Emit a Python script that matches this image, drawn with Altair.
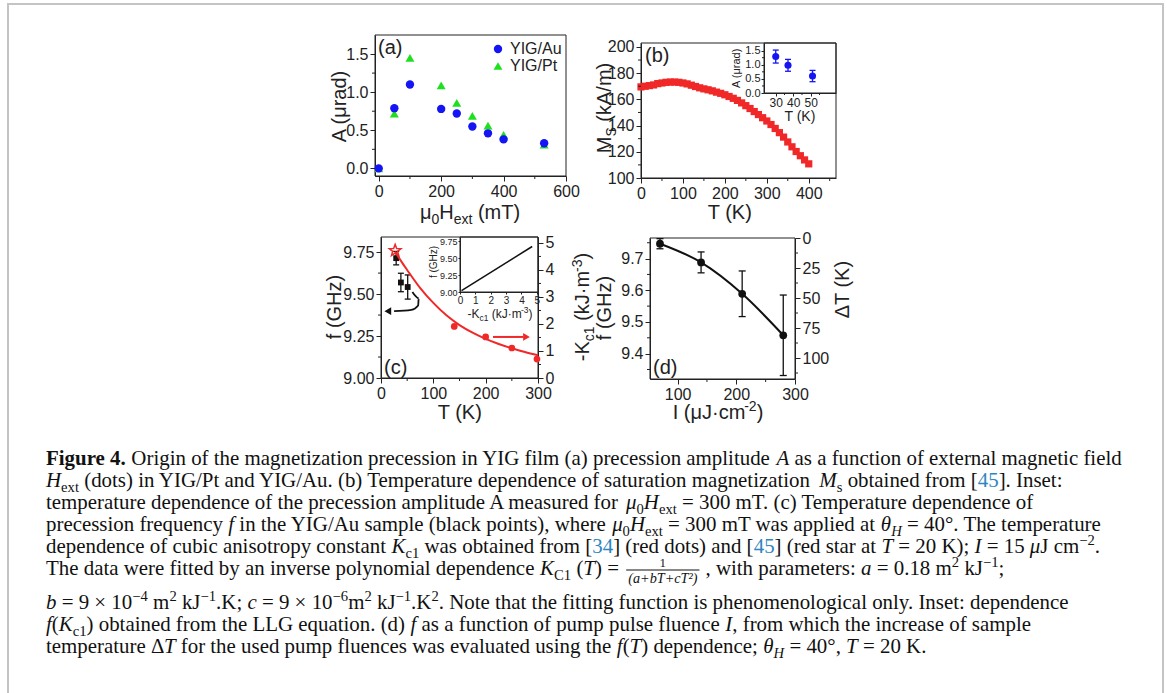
import math
import altair as alt
import pandas as pd

W, H = 1167, 693
INK = "#222222"
CAP_INK = "#111111"
SANS = "Liberation Sans"
SERIF = "Liberation Serif"
BLUE = "#1414f5"
GREEN = "#1fe01f"
RED = "#f02828"
REF_BLUE = "#2f86c0"

# ---------------- data ----------------
# (a) amplitude vs field
a_field = [0, 50, 100, 200, 250, 300, 350, 400, 530]
a_amp_au = [0.00, 0.79, 1.10, 0.78, 0.72, 0.55, 0.46, 0.38, 0.33]
a_amp_pt = [0.00, 0.72, 1.45, 1.09, 0.86, 0.69, 0.56, 0.44, 0.31]

# (b) saturation magnetization vs temperature
b_temp = [0, 10, 20, 30, 40, 50, 60, 70, 80, 90, 100, 110, 120, 130, 140, 150, 160, 170, 180, 190,
          200, 210, 220, 230, 240, 250, 260, 270, 280, 290, 300, 310, 320, 330, 340, 350, 360, 370,
          380, 390, 400]
b_ms = [169.5, 170.0, 170.5, 171.0, 172.0, 172.5, 173.0, 173.2, 173.2, 173.0, 172.5, 171.8, 170.8,
        169.8, 168.8, 168.0, 167.3, 166.5, 165.5, 164.6, 163.5, 162.2, 160.8, 159.2, 157.3, 155.2,
        153.0, 150.7, 148.4, 146.0, 143.5, 140.8, 137.8, 134.6, 131.2, 127.5, 123.8, 120.2, 117.0,
        113.8, 110.8]
# (b) inset
bi_temp = [30, 37, 51]
bi_amp = [1.29, 0.98, 0.60]
bi_err = [0.23, 0.21, 0.20]

# (c) frequency vs temperature (left axis)
c_temp_f = [29, 38, 51]
c_freq = [9.714, 9.569, 9.542]
c_freq_err = [0.040, 0.055, 0.072]
# (c) -Kc1 (right axis)
c_star_temp = [27]
c_star_k = [4.72]
c_dot_temp = [140, 200, 250, 298]
c_dot_k = [1.91, 1.52, 1.11, 0.70]
c_fit_temp = [27, 40, 50, 75, 100, 125, 150, 175, 200, 225, 250, 275, 300]
c_fit_k = [4.68, 4.28, 4.00, 3.33, 2.78, 2.32, 1.96, 1.68, 1.45, 1.26, 1.10, 0.96, 0.84]
# (c) arrows
c_red_arrow_temp = [214, 272]
c_red_arrow_k = [1.52, 1.52]
c_red_head_temp = [278]
c_red_head_k = [1.52]
c_blk_arrow_temp = [60, 72, 71, 58, 25]
c_blk_arrow_f = [9.512, 9.475, 9.432, 9.406, 9.398]
c_blk_head_temp = [13]
c_blk_head_f = [9.398]
# (c) inset
ci_k = [0.1, 4.7]
ci_f = [9.02, 9.67]

# (d) frequency vs fluence
d_flu = [70, 140, 210, 280]
d_freq = [9.747, 9.688, 9.589, 9.458]
d_err = [0.016, 0.033, 0.072, 0.127]

# ---------------- helpers ----------------
def sc(domain, rng):
    return alt.Scale(domain=domain, range=rng, zero=False, nice=False)


def axis(orient, pos, values, fmt=None, size=16, tick=5, pad=2):
    if orient == "bottom":
        off = pos - H
    elif orient == "left":
        off = -pos
    else:
        off = pos - W
    kw = dict(orient=orient, offset=off, values=values, title=None, grid=False,
              labelFont=SANS, labelFontSize=size, labelColor=INK, domainColor=INK,
              tickColor=INK, tickSize=tick, labelPadding=pad, labelFlush=False,
              labelOverlap=False, domainWidth=1, tickWidth=1)
    if fmt:
        kw["format"] = fmt
    return alt.Axis(**kw)


def minor_x(vals, xs, xa, ybot, ln=3):
    return alt.Chart(pd.DataFrame({"m": vals})).mark_rule(color=INK, strokeWidth=1).encode(
        x=alt.X("m:Q", scale=xs, axis=xa), y=alt.value(ybot), y2=alt.value(ybot + ln))


def minor_y(vals, ys, ya, xpos, side="left", ln=3):
    x2 = xpos - ln if side == "left" else xpos + ln
    return alt.Chart(pd.DataFrame({"m": vals})).mark_rule(color=INK, strokeWidth=1).encode(
        y=alt.Y("m:Q", scale=ys, axis=ya), x=alt.value(xpos), x2=alt.value(x2))


def errbars(df, xf, yf, ef, xs, xa, ys, ya, color, cap=7):
    d = df.copy()
    d["lo"] = d[yf] - d[ef]
    d["hi"] = d[yf] + d[ef]
    base = alt.Chart(d)
    rule = base.mark_rule(color=color, strokeWidth=1.3).encode(
        x=alt.X(f"{xf}:Q", scale=xs, axis=xa), y=alt.Y("lo:Q", scale=ys, axis=ya), y2="hi:Q")
    t1 = base.mark_tick(color=color, orient="horizontal", size=cap, thickness=1.3, opacity=1).encode(
        x=alt.X(f"{xf}:Q", scale=xs, axis=xa), y=alt.Y("lo:Q", scale=ys, axis=ya))
    t2 = base.mark_tick(color=color, orient="horizontal", size=cap, thickness=1.3, opacity=1).encode(
        x=alt.X(f"{xf}:Q", scale=xs, axis=xa), y=alt.Y("hi:Q", scale=ys, axis=ya))
    return [rule, t1, t2]


# star symbol path
_pts = []
for k in range(10):
    ang = -math.pi / 2 + k * math.pi / 5
    r = 1.0 if k % 2 == 0 else 0.42
    _pts.append(f"{r * math.cos(ang):.3f},{r * math.sin(ang):.3f}")
STAR = "M" + " L".join(_pts) + " Z"

# ---------------- panel (a) ----------------
A = dict(L=375, R=566, T=35, B=176)
xsA = sc([-12, 600], [A["L"], A["R"]])
ysA = sc([-0.1, 1.75], [A["B"], A["T"]])
xaA = axis("bottom", A["B"], [0, 200, 400, 600])
yaA = axis("left", A["L"], [0, 0.5, 1.0, 1.5], ".1f")
dfA = pd.DataFrame({"h": a_field, "au": a_amp_au, "pt": a_amp_pt})
panelA = alt.layer(
    alt.Chart(dfA).mark_point(shape="triangle-up", filled=True, size=80, color=GREEN, opacity=1).encode(
        x=alt.X("h:Q", scale=xsA, axis=xaA), y=alt.Y("pt:Q", scale=ysA, axis=yaA)),
    alt.Chart(dfA).mark_point(shape="circle", filled=True, size=70, color=BLUE, opacity=1).encode(
        x=alt.X("h:Q", scale=xsA, axis=xaA), y=alt.Y("au:Q", scale=ysA, axis=yaA)),
    minor_x([100, 300, 500], xsA, xaA, A["B"]),
    minor_y([0.25, 0.75, 1.25], ysA, yaA, A["L"]),
)

# ---------------- panel (b) ----------------
B = dict(L=641, R=836, T=43, B=178)
xsB = sc([0, 465], [B["L"], B["R"]])
ysB = sc([100, 203], [B["B"], B["T"]])
xaB = axis("bottom", B["B"], [0, 100, 200, 300, 400])
yaB = axis("left", B["L"], [100, 120, 140, 160, 180, 200])
dfB = pd.DataFrame({"t": b_temp, "ms": b_ms})
panelB = alt.layer(
    alt.Chart(dfB).mark_square(size=52, color=RED, opacity=1).encode(
        x=alt.X("t:Q", scale=xsB, axis=xaB), y=alt.Y("ms:Q", scale=ysB, axis=yaB)),
    minor_x([50, 150, 250, 350, 450], xsB, xaB, B["B"]),
    minor_y([110, 130, 150, 170, 190], ysB, yaB, B["L"]),
)

BI = dict(L=764, R=836, T=43, B=93)
xsBI = sc([23.3, 64.4], [BI["L"], BI["R"]])
ysBI = sc([0, 1.77], [BI["B"], BI["T"]])
xaBI = axis("bottom", BI["B"], [30, 40, 50], size=12, tick=3, pad=1)
yaBI = axis("left", BI["L"], [0, 0.5, 1.0, 1.5], ".1f", size=11, tick=3, pad=1)
dfBI = pd.DataFrame({"t": bi_temp, "a": bi_amp, "e": bi_err})
panelBI = alt.layer(
    *errbars(dfBI, "t", "a", "e", xsBI, xaBI, ysBI, yaBI, BLUE, cap=6),
    alt.Chart(dfBI).mark_point(shape="circle", filled=True, size=50, color=BLUE, opacity=1).encode(
        x=alt.X("t:Q", scale=xsBI, axis=xaBI), y=alt.Y("a:Q", scale=ysBI, axis=yaBI)),
    minor_x([35, 45, 55], xsBI, xaBI, BI["B"], ln=2),
    minor_y([0.25, 0.75, 1.25], ysBI, yaBI, BI["L"], ln=2),
)

# ---------------- panel (c) ----------------
C = dict(L=381, R=538, T=237, B=378)
xsC = sc([0, 300], [C["L"], C["R"]])
ysCL = sc([9.0, 9.84], [C["B"], C["T"]])
ysCR = sc([0, 5.22], [C["B"], C["T"]])
xaC = axis("bottom", C["B"], [0, 100, 200, 300])
yaCL = axis("left", C["L"], [9.0, 9.25, 9.5, 9.75], ".2f")
yaCR = axis("right", C["R"], [0, 1, 2, 3, 4, 5])
dfCf = pd.DataFrame({"t": c_temp_f, "f": c_freq, "e": c_freq_err})
leftC = alt.layer(
    *errbars(dfCf, "t", "f", "e", xsC, xaC, ysCL, yaCL, "#111111", cap=6),
    alt.Chart(dfCf).mark_square(size=34, color="#111111", opacity=1).encode(
        x=alt.X("t:Q", scale=xsC, axis=xaC), y=alt.Y("f:Q", scale=ysCL, axis=yaCL)),
    alt.Chart(pd.DataFrame({"t": c_blk_arrow_temp, "f": c_blk_arrow_f, "o": list(range(len(c_blk_arrow_f)))}))
    .mark_line(color="#111111", strokeWidth=1.8, interpolate="monotone").encode(
        x=alt.X("t:Q", scale=xsC, axis=xaC), y=alt.Y("f:Q", scale=ysCL, axis=yaCL), order="o:Q"),
    alt.Chart(pd.DataFrame({"t": c_blk_head_temp, "f": c_blk_head_f}))
    .mark_point(shape="triangle-left", filled=True, size=60, color="#111111", opacity=1).encode(
        x=alt.X("t:Q", scale=xsC, axis=xaC), y=alt.Y("f:Q", scale=ysCL, axis=yaCL)),
    minor_x([50, 150, 250], xsC, xaC, C["B"]),
    minor_y([9.125, 9.375, 9.625], ysCL, yaCL, C["L"]),
)
rightC = alt.layer(
    alt.Chart(pd.DataFrame({"t": c_fit_temp, "k": c_fit_k})).mark_line(
        color=RED, strokeWidth=2, interpolate="monotone").encode(
        x=alt.X("t:Q", scale=xsC, axis=xaC), y=alt.Y("k:Q", scale=ysCR, axis=yaCR)),
    alt.Chart(pd.DataFrame({"t": c_dot_temp, "k": c_dot_k})).mark_point(
        shape="circle", filled=True, size=45, color=RED, opacity=1).encode(
        x=alt.X("t:Q", scale=xsC, axis=xaC), y=alt.Y("k:Q", scale=ysCR, axis=yaCR)),
    alt.Chart(pd.DataFrame({"t": c_star_temp, "k": c_star_k})).mark_point(
        shape=STAR, filled=False, size=150, color=RED, strokeWidth=1.5, opacity=1).encode(
        x=alt.X("t:Q", scale=xsC, axis=xaC), y=alt.Y("k:Q", scale=ysCR, axis=yaCR)),
    alt.Chart(pd.DataFrame({"t": c_red_arrow_temp, "k": c_red_arrow_k})).mark_line(
        color=RED, strokeWidth=2).encode(
        x=alt.X("t:Q", scale=xsC, axis=xaC), y=alt.Y("k:Q", scale=ysCR, axis=yaCR)),
    alt.Chart(pd.DataFrame({"t": c_red_head_temp, "k": c_red_head_k})).mark_point(
        shape="triangle-right", filled=True, size=60, color=RED, opacity=1).encode(
        x=alt.X("t:Q", scale=xsC, axis=xaC), y=alt.Y("k:Q", scale=ysCR, axis=yaCR)),
    minor_y([0.5, 1.5, 2.5, 3.5, 4.5], ysCR, yaCR, C["R"], side="right"),
)
panelC = alt.layer(leftC, rightC).resolve_scale(y="independent")

CI = dict(L=460, R=538, T=237, B=292)
xsCI = sc([0, 5.08], [CI["L"], CI["R"]])
ysCI = sc([9.0, 9.81], [CI["B"], CI["T"]])
xaCI = axis("bottom", CI["B"], [0, 1, 2, 3, 4, 5], size=10, tick=2, pad=1)
yaCI = axis("left", CI["L"], [9.0, 9.25, 9.5, 9.75], ".2f", size=9, tick=2, pad=1)
panelCI = alt.layer(
    alt.Chart(pd.DataFrame({"k": ci_k, "f": ci_f})).mark_line(color="#111111", strokeWidth=1.5).encode(
        x=alt.X("k:Q", scale=xsCI, axis=xaCI), y=alt.Y("f:Q", scale=ysCI, axis=yaCI)),
)

# ---------------- panel (d) ----------------
D = dict(L=650, R=795, T=238, B=379)
xsD = sc([53, 300], [D["L"], D["R"]])
ysDL = sc([9.32, 9.765], [D["B"], D["T"]])
ysDR = sc([0, 117.5], [D["T"], D["B"]])
xaD = axis("bottom", D["B"], [100, 200, 300])
yaDL = axis("left", D["L"], [9.4, 9.5, 9.6, 9.7], ".1f")
yaDR = axis("right", D["R"], [0, 25, 50, 75, 100])
dfD = pd.DataFrame({"i": d_flu, "f": d_freq, "e": d_err})
leftD = alt.layer(
    alt.Chart(dfD).mark_line(color="#111111", strokeWidth=2, interpolate="monotone").encode(
        x=alt.X("i:Q", scale=xsD, axis=xaD), y=alt.Y("f:Q", scale=ysDL, axis=yaDL)),
    *errbars(dfD, "i", "f", "e", xsD, xaD, ysDL, yaDL, "#111111", cap=7),
    alt.Chart(dfD).mark_point(shape="circle", filled=True, size=60, color="#111111", opacity=1).encode(
        x=alt.X("i:Q", scale=xsD, axis=xaD), y=alt.Y("f:Q", scale=ysDL, axis=yaDL)),
    minor_x([150, 250], xsD, xaD, D["B"]),
    minor_y([9.35, 9.45, 9.55, 9.65, 9.75], ysDL, yaDL, D["L"]),
)
rightD = minor_y([12.5, 37.5, 62.5, 87.5, 112.5], ysDR, yaDR, D["R"], side="right")
panelD = alt.layer(leftD, rightD).resolve_scale(y="independent")

# ---------------- frames ----------------
frames = pd.DataFrame([
    dict(x=A["L"], x2=A["R"], y=A["T"], y2=A["B"]),
    dict(x=B["L"], x2=B["R"], y=B["T"], y2=B["B"]),
    dict(x=BI["L"], x2=BI["R"], y=BI["T"], y2=BI["B"]),
    dict(x=C["L"], x2=C["R"], y=C["T"], y2=C["B"]),
    dict(x=CI["L"], x2=CI["R"], y=CI["T"], y2=CI["B"]),
    dict(x=D["L"], x2=D["R"], y=D["T"], y2=D["B"]),
])
frame_layer = alt.Chart(frames).mark_rect(fill="white", fillOpacity=0, stroke=INK, strokeWidth=1).encode(
    x=alt.X("x:Q", scale=None, axis=None), x2="x2:Q",
    y=alt.Y("y:Q", scale=None, axis=None), y2="y2:Q")
border_layer = alt.Chart(pd.DataFrame([dict(x=8, x2=1163, y=4, y2=720)])).mark_rect(
    fill="white", fillOpacity=0, stroke="#c4c4c4", strokeWidth=2).encode(
    x=alt.X("x:Q", scale=None, axis=None), x2="x2:Q",
    y=alt.Y("y:Q", scale=None, axis=None), y2="y2:Q")

# ---------------- text layout ----------------
def _tbl(spec, default):
    d = {}
    for tok in spec.split():
        ch, w = tok[0], tok[1:]
        d[ch] = int(w)
    for dg in "0123456789":
        d.setdefault(dg, default)
    return d

ARIAL = _tbl("A667 G778 H722 I278 J500 K667 M833 S667 T611 Y667 P667 a556 b556 c500 d556 e556 f278 "
             "i222 k500 l222 m833 n556 r333 s500 t278 u556 x500 z500 (333 )333 -333 .278 /278 ·278 "
             "μ576 Δ612", 556)
ARIAL[" "] = 278
TR = _tbl("A722 B667 C667 D722 E611 F556 G722 H722 I333 J389 K722 L611 M889 N722 O722 P556 Q722 "
          "R667 S556 T611 U722 V722 W944 X722 Y722 Z611 a444 b500 c444 d500 e444 f333 g500 h500 "
          "i278 j278 k500 l278 m778 n500 o500 p500 q500 r333 s389 t278 u500 v500 w722 x500 y500 "
          "z444 (333 )333 [333 ]333 .250 ,250 ;278 :278 /278 -333 =564 +564 °400 ×564 −564 Δ612 "
          "μ500 θ500 ·250 ²300", 500)
TR[" "] = 250
TI = _tbl("A611 B611 C667 D722 E611 F611 G722 H722 I333 J444 K667 L556 M833 N667 O722 P611 Q722 "
          "R611 S500 T556 U722 V611 W833 X611 Y556 Z556 a500 b500 c444 d500 e444 f278 g500 h500 "
          "i278 j278 k444 l278 m722 n500 o500 p500 q500 r389 s389 t278 u500 v444 w667 x444 y444 "
          "z389 (333 )333 .250 ,250 +675 =675 μ500 θ500 ²300", 500)
TI[" "] = 250
TB = _tbl("F611 i278 g500 u556 r444 e444 .250", 500)
TB[" "] = 250

STY = {
    "r": (False, False, 1.0, 0.0, None),
    "i": (True, False, 1.0, 0.0, None),
    "b": (False, True, 1.0, 0.0, None),
    "sub": (False, False, 0.7, 0.25, None),
    "isub": (True, False, 0.7, 0.25, None),
    "sup": (False, False, 0.7, -0.38, None),
    "blue": (False, False, 1.0, 0.0, REF_BLUE),
}


def tw(s, table, size):
    return sum(table.get(c, 500) for c in s) * size / 1000.0


def table_for(font, it, bd):
    if font == SANS:
        return ARIAL
    if bd:
        return TB
    return TI if it else TR


rows = []
bars = []


def seg_width(segs, fs, font):
    tot = 0.0
    for seg in segs:
        if seg[0] == "FRAC":
            tot += tw(seg[2], TI, fs * 0.68) + 8
            continue
        text, st = seg
        it, bd, k, sh, col = STY[st]
        tot += tw(text, table_for(font, it, bd), fs * k)
    return tot


def add_segs(segs, x0, y0, fs, font, angle=0, anchor="left", color=INK):
    total = seg_width(segs, fs, font)
    pos = -total / 2 if anchor == "center" else 0.0
    for seg in segs:
        if seg[0] == "FRAC":
            num, den = seg[1], seg[2]
            dfs = fs * 0.68
            wd = tw(den, TI, dfs) + 4
            left = x0 + pos + 2
            cx = left + wd / 2
            rows.append(dict(x=cx, y=y0 - 8, text=num, size=fs * 0.62, color=color, angle=0,
                             font=font, it=False, bd=False, align="center"))
            rows.append(dict(x=cx, y=y0 + 8, text=den, size=dfs, color=color, angle=0,
                             font=font, it=True, bd=False, align="center"))
            bars.append(dict(x=left, x2=left + wd, y=y0 - 5))
            pos += wd + 4 + 4
            continue
        text, st = seg
        it, bd, k, sh, col = STY[st]
        size = fs * k
        tbl = table_for(font, it, bd)
        w = tw(text, tbl, size)
        body = text.lstrip(" ")
        lead = tw(text[: len(text) - len(body)], tbl, size)
        body = body.rstrip(" ")
        if body:
            if angle == 0:
                x, y = x0 + pos + lead, y0 + sh * fs
            else:
                x, y = x0 + sh * fs, y0 - pos - lead
            rows.append(dict(x=x, y=y, text=body, size=size, color=col or color,
                             angle=angle, font=font, it=it, bd=bd, align="left"))
        pos += w


def vtitle(segs, cx, cy, fs):
    # rotated (bottom-to-top) title, glyphs centred on cx
    add_segs(segs, cx + 0.36 * fs, cy, fs, SANS, angle=270, anchor="center")


def htitle(segs, cx, base, fs):
    add_segs(segs, cx, base, fs, SANS, angle=0, anchor="center")


# panel (a) texts
vtitle([("A (μrad)", "r")], 339, 106, 20)
htitle([("μ", "r"), ("0", "sub"), ("H", "r"), ("ext", "sub"), (" (mT)", "r")], 470, 219, 20)
add_segs([("(a)", "r")], 378, 54, 20, SANS)
add_segs([("YIG/Au", "r")], 510, 54, 16, SANS)
add_segs([("YIG/Pt", "r")], 510, 71, 16, SANS)
# panel (b)
vtitle([("M", "r"), ("S", "sub"), (" (kA/m)", "r")], 604, 108, 20)
htitle([("T (K)", "r")], 730, 219, 20)
add_segs([("(b)", "r")], 645, 62, 20, SANS)
vtitle([("A (μrad)", "r")], 736, 68, 11)
htitle([("T (K)", "r")], 800, 121, 14)
# panel (c)
vtitle([("f (GHz)", "r")], 334, 307, 20)
vtitle([("-K", "r"), ("c1", "sub"), (" (kJ·m", "r"), ("-3", "sup"), (")", "r")], 582, 307, 20)
htitle([("T (K)", "r")], 460, 419, 20)
add_segs([("(c)", "r")], 384, 374, 20, SANS)
vtitle([("f (GHz)", "r")], 433, 262, 10)
htitle([("-K", "r"), ("c1", "sub"), (" (kJ·m", "r"), ("-3", "sup"), (")", "r")], 500, 318, 12)
# panel (d)
vtitle([("f (GHz)", "r")], 604, 308, 20)
vtitle([("ΔT (K)", "r")], 842, 290, 20)
htitle([("I (μJ·cm", "r"), ("-2", "sup"), (")", "r")], 718, 419, 20)
add_segs([("(d)", "r")], 653, 374, 20, SANS)

# legend markers for (a)
leg = pd.DataFrame({"x": [498], "y": [49]})
leg2 = pd.DataFrame({"x": [498], "y": [66]})
legend_layers = [
    alt.Chart(leg).mark_point(shape="circle", filled=True, size=70, color=BLUE, opacity=1).encode(
        x=alt.X("x:Q", scale=None, axis=None), y=alt.Y("y:Q", scale=None, axis=None)),
    alt.Chart(leg2).mark_point(shape="triangle-up", filled=True, size=80, color=GREEN, opacity=1).encode(
        x=alt.X("x:Q", scale=None, axis=None), y=alt.Y("y:Q", scale=None, axis=None)),
]

# caption
caption = [
    [("Figure 4.", "b"), (" Origin of the magnetization precession in YIG film (a) precession amplitude ", "r"),
     ("A", "i"), (" as a function of external magnetic field", "r")],
    [("H", "i"), ("ext", "sub"), (" (dots) in YIG/Pt and YIG/Au. (b) Temperature dependence of saturation magnetization ", "r"),
     ("M", "i"), ("s", "sub"), (" obtained from [", "r"), ("45", "blue"), ("]. Inset:", "r")],
    [("temperature dependence of the precession amplitude A measured for ", "r"), ("μ", "i"), ("0", "sub"),
     ("H", "i"), ("ext", "sub"), (" = 300 mT. (c) Temperature dependence of", "r")],
    [("precession frequency ", "r"), ("f", "i"), (" in the YIG/Au sample (black points), where ", "r"),
     ("μ", "i"), ("0", "sub"), ("H", "i"), ("ext", "sub"), (" = 300 mT was applied at ", "r"),
     ("θ", "i"), ("H", "isub"), (" = 40°. The temperature", "r")],
    [("dependence of cubic anisotropy constant ", "r"), ("K", "i"), ("c1", "sub"), (" was obtained from [", "r"),
     ("34", "blue"), ("] (red dots) and [", "r"), ("45", "blue"), ("] (red star at ", "r"), ("T", "i"),
     (" = 20 K); ", "r"), ("I", "i"), (" = 15 ", "r"), ("μ", "i"), ("J cm", "r"), ("−2", "sup"), (".", "r")],
    [("The data were fitted by an inverse polynomial dependence ", "r"), ("K", "i"), ("C1", "sub"),
     (" (", "r"), ("T", "i"), (") = ", "r"), ("FRAC", "1", "(a+bT+cT²)"), (", with parameters: ", "r"),
     ("a", "i"), (" = 0.18 m", "r"), ("2", "sup"), (" kJ", "r"), ("−1", "sup"), (";", "r")],
    [("b", "i"), (" = 9 × 10", "r"), ("−4", "sup"), (" m", "r"), ("2", "sup"), (" kJ", "r"), ("−1", "sup"),
     (".K; ", "r"), ("c", "i"), (" = 9 × 10", "r"), ("−6", "sup"), ("m", "r"), ("2", "sup"), (" kJ", "r"),
     ("−1", "sup"), (".K", "r"), ("2", "sup"),
     (". Note that the fitting function is phenomenological only. Inset: dependence", "r")],
    [("f", "i"), ("(", "r"), ("K", "i"), ("c1", "sub"), (") obtained from the LLG equation. (d) ", "r"),
     ("f", "i"), (" as a function of pump pulse fluence ", "r"), ("I", "i"),
     (", from which the increase of sample", "r")],
    [("temperature Δ", "r"), ("T", "i"), (" for the used pump fluences was evaluated using the ", "r"),
     ("f", "i"), ("(", "r"), ("T", "i"), (") dependence; ", "r"), ("θ", "i"), ("H", "isub"),
     (" = 40°, ", "r"), ("T", "i"), (" = 20 K.", "r")],
]
CAP_X0 = 46
CAP_RIGHT = 1122
cap_fs = (CAP_RIGHT - CAP_X0) / (seg_width(caption[0], 1000, SERIF) / 1000)
baselines = [465, 487, 509, 531, 553, 575, 609, 631, 653]
for segs, yb in zip(caption, baselines):
    add_segs(segs, CAP_X0, yb, cap_fs, SERIF, color=CAP_INK)

tdf = pd.DataFrame(rows)
text_layers = []
for (font, it, bd, align), g in tdf.groupby(["font", "it", "bd", "align"]):
    text_layers.append(
        alt.Chart(g.reset_index(drop=True)).mark_text(
            font=font, fontStyle="italic" if it else "normal", fontWeight="bold" if bd else "normal",
            align=align, baseline="alphabetic").encode(
            x=alt.X("x:Q", scale=None, axis=None), y=alt.Y("y:Q", scale=None, axis=None),
            text="text:N",
            size=alt.Size("size:Q", scale=None, legend=None),
            color=alt.Color("color:N", scale=None, legend=None),
            angle=alt.Angle("angle:Q", scale=None, legend=None)))

bar_layer = alt.Chart(pd.DataFrame(bars)).mark_rule(color=CAP_INK, strokeWidth=1).encode(
    x=alt.X("x:Q", scale=None, axis=None), x2="x2:Q", y=alt.Y("y:Q", scale=None, axis=None))

chart = alt.layer(
    border_layer, frame_layer,
    panelA, panelB, panelBI, panelC, panelCI, panelD,
    *legend_layers, bar_layer, *text_layers,
).resolve_scale(x="independent", y="independent").properties(
    width=W, height=H, padding=0, autosize=alt.AutoSizeParams(type="none")
).configure_view(stroke=None)

chart.save("out.html", embed_options={"renderer": "svg", "actions": False})
